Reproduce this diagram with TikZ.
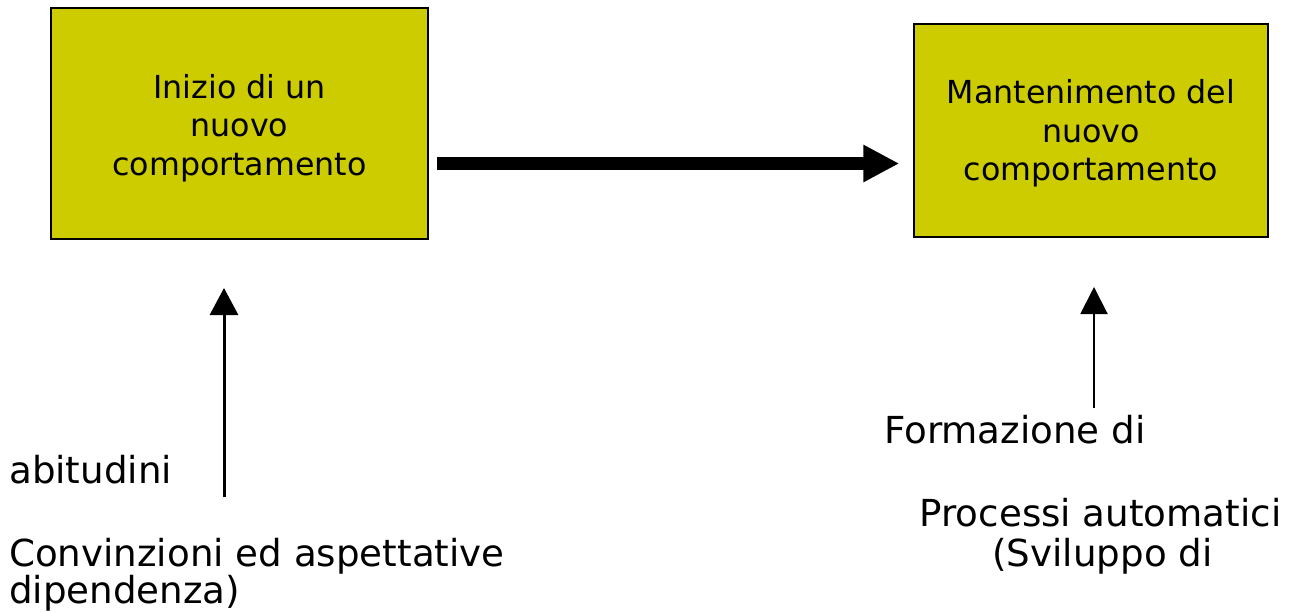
\documentclass[tikz,border=0pt]{standalone}
\usepackage{fontspec}
\setmainfont{DejaVu Sans}
\usetikzlibrary{arrows.meta}
\definecolor{boxfill}{HTML}{CCCC00}
\tikzset{
  box/.style={draw=black, line width=1.5pt, fill=boxfill, inner sep=0pt},
  boxtext/.style={align=center, inner sep=0pt, font=\fontsize{31.7}{38.5}\selectfont},
  lowtext/.style={inner sep=0pt, font=\fontsize{37.2}{38}\selectfont},
  bigarrow/.style={line width=13pt, -{Triangle[length=36pt,width=35pt]}},
  uparrow/.style={line width=3pt, -{Triangle[length=27pt,width=28pt]}},
  thinuparrow/.style={line width=2pt, -{Triangle[length=27pt,width=27pt]}}
}
\begin{document}
\begin{tikzpicture}[x=1pt,y=-1pt]
\useasboundingbox (0,0) rectangle (1295,611);
% boxes
\node[box, minimum width=377pt, minimum height=231pt] (start) at (239.5,123.5) {};
\node[boxtext] (starttext) at (239.5,128) {Inizio di un\\nuovo\\comportamento};
\node[box, minimum width=354pt, minimum height=213pt] (keep) at (1091,130.5) {};
\node[boxtext] (keeptext) at (1091,133.5) {Mantenimento del\\nuovo\\comportamento};
% main arrow
\draw[bigarrow] ([shift={(8,40)}]start.east) -- ([shift={(-14,33)}]keep.west);
% lower texts
\node[lowtext, anchor=base west] (abit) at (9,483) {abitudini};
\node[lowtext, anchor=base west] (conv) at (9,566) {Convinzioni ed aspettative};
\node[lowtext, anchor=base west] (dip) at (9,603) {dipendenza)};
\node[lowtext, anchor=base west] (form) at (884,443) {Formazione di};
\node[lowtext, anchor=base] (proc) at (1100.5,526) {Processi automatici};
\node[lowtext, anchor=base] (svil) at (1102.5,566) {(Sviluppo di};
% vertical arrows
\coordinate (lfoot) at (224,497);
\coordinate (ltip) at (224,288);
\coordinate (rfoot) at (1094,408);
\coordinate (rtip) at (1094,287);
\draw[uparrow] (lfoot) -- (ltip);
\draw[thinuparrow] (rfoot) -- (rtip);
\end{tikzpicture}
\end{document}
